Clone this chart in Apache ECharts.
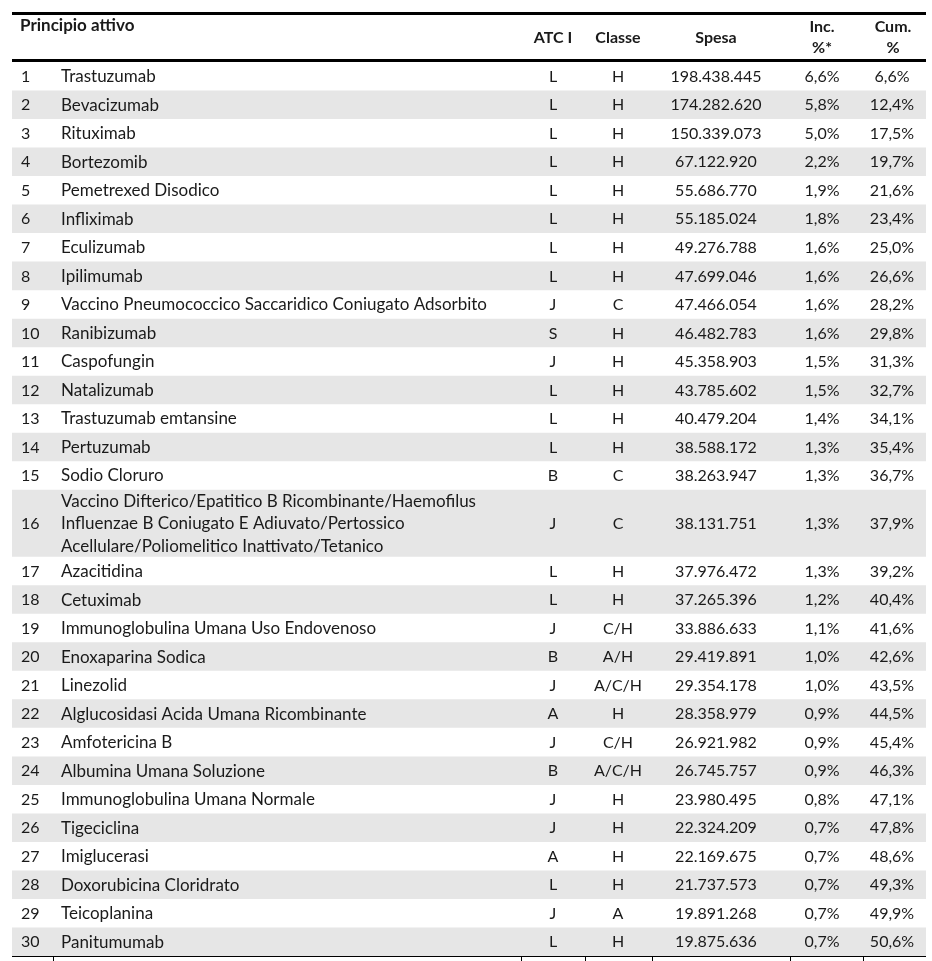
<!DOCTYPE html>
<html><head><meta charset="utf-8">
<script src="https://cdn.jsdelivr.net/npm/echarts@6/dist/echarts.min.js"></script>
<style>html,body{margin:0;padding:0;background:#fff}#c{width:932px;height:961px}</style>
</head><body><div id="c"></div>
<script>
// ---- data ----
const ranks = [1,2,3,4,5,6,7,8,9,10,11,12,13,14,15,16,17,18,19,20,21,22,23,24,25,26,27,28,29,30];
const names = [
  'Trastuzumab','Bevacizumab','Rituximab','Bortezomib','Pemetrexed Disodico','Infliximab','Eculizumab','Ipilimumab',
  'Vaccino Pneumococcico Saccaridico Coniugato Adsorbito','Ranibizumab','Caspofungin','Natalizumab',
  'Trastuzumab emtansine','Pertuzumab','Sodio Cloruro',
  'Vaccino Difterico/Epatitico B Ricombinante/Haemofilus\nInfluenzae B Coniugato E Adiuvato/Pertossico\nAcellulare/Poliomelitico Inattivato/Tetanico',
  'Azacitidina','Cetuximab','Immunoglobulina Umana Uso Endovenoso','Enoxaparina Sodica','Linezolid',
  'Alglucosidasi Acida Umana Ricombinante','Amfotericina B','Albumina Umana Soluzione','Immunoglobulina Umana Normale',
  'Tigeciclina','Imiglucerasi','Doxorubicina Cloridrato','Teicoplanina','Panitumumab'
];
const atc = ['L','L','L','L','L','L','L','L','J','S','J','L','L','L','B','J','L','L','J','B','J','A','J','B','J','J','A','L','J','L'];
const classe = ['H','H','H','H','H','H','H','H','C','H','H','H','H','H','C','C','H','H','C/H','A/H','A/C/H','H','C/H','A/C/H','H','H','H','H','A','H'];
const spesa = [198438445,174282620,150339073,67122920,55686770,55185024,49276788,47699046,47466054,46482783,45358903,43785602,40479204,38588172,38263947,38131751,37976472,37265396,33886633,29419891,29354178,28358979,26921982,26745757,23980495,22324209,22169675,21737573,19891268,19875636];
const inc = [6.6,5.8,5.0,2.2,1.9,1.8,1.6,1.6,1.6,1.6,1.5,1.5,1.4,1.3,1.3,1.3,1.3,1.2,1.1,1.0,1.0,0.9,0.9,0.9,0.8,0.7,0.7,0.7,0.7,0.7];
const cum = [6.6,12.4,17.5,19.7,21.6,23.4,25.0,26.6,28.2,29.8,31.3,32.7,34.1,35.4,36.7,37.9,39.2,40.4,41.6,42.6,43.5,44.5,45.4,46.3,47.1,47.8,48.6,49.3,49.9,50.6];
const headers = ['Principio attivo','ATC I','Classe','Spesa','Inc.\n%*','Cum.\n%'];

// ---- layout / style ----
const FONT_FAMILY = 'Lato, "Open Sans", sans-serif';
const FS = 16;
const FS_NAME = 17;
const TXT = '#1a1a1a';
const SHADE = '#e6e6e6';
const LEFT = 12, RIGHT = 926;
const COLX = {rank:21, name:61, atc:553, classe:618, spesa:716, inc:822, cum:892};
const EXTRA_LINE = 0.675;

const fmtInt = v => String(v).replace(/\B(?=(\d{3})+(?!\d))/g, '.');
const fmtPct = v => v.toFixed(1).replace('.', ',') + '%';

let acc = 0;
const rows = ranks.map((r, i) => {
  const lines = names[i].split('\n').length;
  const h = 1 + (lines - 1) * EXTRA_LINE;
  const item = [i, acc, acc + h];
  acc += h;
  return item;
});
const total = acc;

function txt(x, y, text, align, bold, lh, fs) {
  return {type:'text', x:x, y:y, style:{text:text, fill:TXT, font:(bold?'bold ':'') + (fs || FS) + 'px ' + FONT_FAMILY,
    textAlign:align, textVerticalAlign:'middle', align:align, verticalAlign:'middle', lineHeight: lh || 22.5}};
}

const chart = echarts.init(document.getElementById('c'), null, {renderer:'canvas'});
const ticksX = [53, 521, 585, 652, 790, 863];
const graphics = [
  {type:'rect', shape:{x:LEFT, y:12, width:RIGHT-LEFT, height:3}, style:{fill:'#000'}},
  {type:'rect', shape:{x:LEFT, y:59, width:RIGHT-LEFT, height:3}, style:{fill:'#000'}},
  {type:'rect', shape:{x:LEFT, y:956, width:RIGHT-LEFT, height:1}, style:{fill:'#000'}},
  txt(20, 26, headers[0], 'left', true, null, FS_NAME),
  txt(COLX.atc, 38, headers[1], 'center', true),
  txt(COLX.classe, 38, headers[2], 'center', true),
  txt(COLX.spesa, 38, headers[3], 'center', true),
  txt(COLX.inc, 37.5, headers[4], 'center', true, 21),
  txt(COLX.cum + 1, 37.5, headers[5], 'center', true, 21)
];
ticksX.forEach(x => graphics.push({type:'rect', shape:{x:x, y:957, width:1, height:4}, style:{fill:'#000'}}));

chart.setOption({
  animation:false,
  grid:{left:0, right:0, top:62, bottom:5},
  xAxis:{type:'value', min:0, max:932, show:false},
  yAxis:{type:'value', min:0, max:total, inverse:true, show:false},
  graphic:{elements: graphics.map(g => Object.assign({z:100}, g))},
  series:[{
    type:'custom',
    coordinateSystem:'cartesian2d',
    data: rows,
    encode:{x:-1, y:[1,2]},
    renderItem:function(params, api){
      const i = api.value(0);
      const top = api.coord([0, api.value(1)])[1];
      const bot = api.coord([0, api.value(2)])[1];
      const mid = (top + bot) / 2 + 0.5;
      const X = v => api.coord([v, 0])[0];
      const ch = [];
      if (i % 2 === 1) ch.push({type:'rect', shape:{x:X(LEFT), y:top, width:X(RIGHT)-X(LEFT), height:bot-top}, style:{fill:SHADE}});
      ch.push(txt(X(COLX.rank), mid, String(ranks[i]), 'left'));
      ch.push(txt(X(COLX.name), mid, names[i], 'left', false, 22.5, FS_NAME));
      ch.push(txt(X(COLX.atc), mid, atc[i], 'center'));
      ch.push(txt(X(COLX.classe), mid, classe[i], 'center'));
      ch.push(txt(X(COLX.spesa), mid, fmtInt(spesa[i]), 'center'));
      ch.push(txt(X(COLX.inc), mid, fmtPct(inc[i]), 'center'));
      ch.push(txt(X(COLX.cum), mid, fmtPct(cum[i]), 'center'));
      return {type:'group', children:ch};
    }
  }]
});
</script></body></html>
